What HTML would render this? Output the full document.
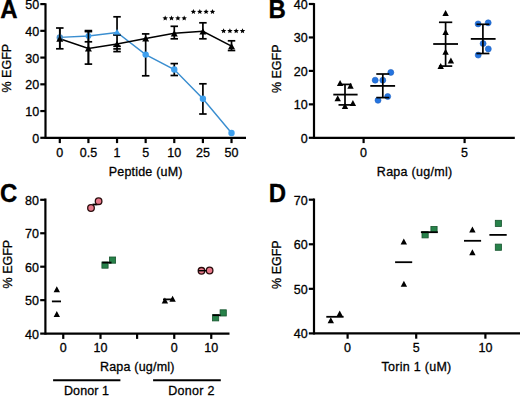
<!DOCTYPE html>
<html><head><meta charset="utf-8"><style>
html,body{margin:0;padding:0;background:#fff;}
body{width:520px;height:396px;overflow:hidden;}
svg{display:block;font-family:"Liberation Sans", sans-serif;fill:#000;}
text{stroke:#000;stroke-width:0.3px;}
</style></head><body>
<svg width="520" height="396" viewBox="0 0 520 396">
<rect width="520" height="396" fill="#fff"/>
<text x="0" y="0" font-size="24" font-weight="bold" transform="translate(0.2,18.2) scale(1,1.08)">A</text>
<line x1="45.5" y1="3.3000000000000003" x2="45.5" y2="138.9" stroke="#000" stroke-width="2.2"/>
<line x1="40.3" y1="137.8" x2="45.5" y2="137.8" stroke="#000" stroke-width="2.2"/>
<text x="39.1" y="142.8" text-anchor="end" font-size="12.5" font-weight="normal" >0</text>
<line x1="40.3" y1="111.06" x2="45.5" y2="111.06" stroke="#000" stroke-width="2.2"/>
<text x="39.1" y="116.06" text-anchor="end" font-size="12.5" font-weight="normal" >10</text>
<line x1="40.3" y1="84.32" x2="45.5" y2="84.32" stroke="#000" stroke-width="2.2"/>
<text x="39.1" y="89.32" text-anchor="end" font-size="12.5" font-weight="normal" >20</text>
<line x1="40.3" y1="57.58" x2="45.5" y2="57.58" stroke="#000" stroke-width="2.2"/>
<text x="39.1" y="62.58" text-anchor="end" font-size="12.5" font-weight="normal" >30</text>
<line x1="40.3" y1="30.84" x2="45.5" y2="30.84" stroke="#000" stroke-width="2.2"/>
<text x="39.1" y="35.84" text-anchor="end" font-size="12.5" font-weight="normal" >40</text>
<line x1="40.3" y1="4.1" x2="45.5" y2="4.1" stroke="#000" stroke-width="2.2"/>
<text x="39.1" y="9.1" text-anchor="end" font-size="12.5" font-weight="normal" >50</text>
<line x1="45.5" y1="137.8" x2="246" y2="137.8" stroke="#000" stroke-width="2.2"/>
<line x1="59.8" y1="137.8" x2="59.8" y2="143.10000000000002" stroke="#000" stroke-width="2.2"/>
<text x="59.8" y="156.5" text-anchor="middle" font-size="12.5" font-weight="normal" >0</text>
<line x1="88.42" y1="137.8" x2="88.42" y2="143.10000000000002" stroke="#000" stroke-width="2.2"/>
<text x="88.42" y="156.5" text-anchor="middle" font-size="12.5" font-weight="normal" >0.5</text>
<line x1="117.04" y1="137.8" x2="117.04" y2="143.10000000000002" stroke="#000" stroke-width="2.2"/>
<text x="117.04" y="156.5" text-anchor="middle" font-size="12.5" font-weight="normal" >1</text>
<line x1="145.66" y1="137.8" x2="145.66" y2="143.10000000000002" stroke="#000" stroke-width="2.2"/>
<text x="145.66" y="156.5" text-anchor="middle" font-size="12.5" font-weight="normal" >5</text>
<line x1="174.28" y1="137.8" x2="174.28" y2="143.10000000000002" stroke="#000" stroke-width="2.2"/>
<text x="174.28" y="156.5" text-anchor="middle" font-size="12.5" font-weight="normal" >10</text>
<line x1="202.9" y1="137.8" x2="202.9" y2="143.10000000000002" stroke="#000" stroke-width="2.2"/>
<text x="202.9" y="156.5" text-anchor="middle" font-size="12.5" font-weight="normal" >25</text>
<line x1="231.52" y1="137.8" x2="231.52" y2="143.10000000000002" stroke="#000" stroke-width="2.2"/>
<text x="231.52" y="156.5" text-anchor="middle" font-size="12.5" font-weight="normal" >50</text>
<text x="145.7" y="175.8" text-anchor="middle" font-size="12.5" letter-spacing="0.2">Peptide (uM)</text>
<text x="0" y="0" text-anchor="middle" font-size="12.5" transform="translate(11.0,68.2) rotate(-90)">% EGFP</text>
<line x1="59.8" y1="28.0" x2="59.8" y2="48.8" stroke="#000" stroke-width="1.7"/>
<line x1="56.05" y1="28.0" x2="63.55" y2="28.0" stroke="#000" stroke-width="1.7"/>
<line x1="56.05" y1="48.8" x2="63.55" y2="48.8" stroke="#000" stroke-width="1.7"/>
<line x1="88.42" y1="30.6" x2="88.42" y2="64.1" stroke="#000" stroke-width="1.7"/>
<line x1="84.67" y1="30.6" x2="92.17" y2="30.6" stroke="#000" stroke-width="1.7"/>
<line x1="84.67" y1="64.1" x2="92.17" y2="64.1" stroke="#000" stroke-width="1.7"/>
<line x1="84.67" y1="31.6" x2="92.17" y2="31.6" stroke="#000" stroke-width="1.7"/>
<line x1="84.67" y1="41.8" x2="92.17" y2="41.8" stroke="#000" stroke-width="1.7"/>
<line x1="117.04" y1="16.8" x2="117.04" y2="51.6" stroke="#000" stroke-width="1.7"/>
<line x1="113.29" y1="16.8" x2="120.79" y2="16.8" stroke="#000" stroke-width="1.7"/>
<line x1="113.29" y1="51.6" x2="120.79" y2="51.6" stroke="#000" stroke-width="1.7"/>
<line x1="113.29" y1="48.9" x2="120.79" y2="48.9" stroke="#000" stroke-width="1.7"/>
<line x1="113.29" y1="46.3" x2="120.79" y2="46.3" stroke="#000" stroke-width="1.7"/>
<line x1="113.29" y1="34.7" x2="120.79" y2="34.7" stroke="#000" stroke-width="1.7"/>
<line x1="145.66" y1="33.9" x2="145.66" y2="75.8" stroke="#000" stroke-width="1.7"/>
<line x1="141.91" y1="33.9" x2="149.41" y2="33.9" stroke="#000" stroke-width="1.7"/>
<line x1="141.91" y1="75.8" x2="149.41" y2="75.8" stroke="#000" stroke-width="1.7"/>
<line x1="174.28" y1="26.3" x2="174.28" y2="38.8" stroke="#000" stroke-width="1.7"/>
<line x1="170.53" y1="26.3" x2="178.03" y2="26.3" stroke="#000" stroke-width="1.7"/>
<line x1="170.53" y1="38.8" x2="178.03" y2="38.8" stroke="#000" stroke-width="1.7"/>
<line x1="174.28" y1="63.6" x2="174.28" y2="75.5" stroke="#000" stroke-width="1.7"/>
<line x1="170.53" y1="63.6" x2="178.03" y2="63.6" stroke="#000" stroke-width="1.7"/>
<line x1="170.53" y1="75.5" x2="178.03" y2="75.5" stroke="#000" stroke-width="1.7"/>
<line x1="202.9" y1="22.8" x2="202.9" y2="38.8" stroke="#000" stroke-width="1.7"/>
<line x1="199.15" y1="22.8" x2="206.65" y2="22.8" stroke="#000" stroke-width="1.7"/>
<line x1="199.15" y1="38.8" x2="206.65" y2="38.8" stroke="#000" stroke-width="1.7"/>
<line x1="202.9" y1="83.8" x2="202.9" y2="114.0" stroke="#000" stroke-width="1.7"/>
<line x1="199.15" y1="83.8" x2="206.65" y2="83.8" stroke="#000" stroke-width="1.7"/>
<line x1="199.15" y1="114.0" x2="206.65" y2="114.0" stroke="#000" stroke-width="1.7"/>
<line x1="231.52" y1="40.8" x2="231.52" y2="50.5" stroke="#000" stroke-width="1.7"/>
<line x1="227.77" y1="40.8" x2="235.27" y2="40.8" stroke="#000" stroke-width="1.7"/>
<line x1="227.77" y1="50.5" x2="235.27" y2="50.5" stroke="#000" stroke-width="1.7"/>
<polyline points="59.8,37.4 88.42,36.0 117.04,32.5 145.66,54.6 174.28,69.5 202.9,98.8 231.52,133.0" fill="none" stroke="#3a8ed0" stroke-width="1.45"/>
<polyline points="59.8,38.7 88.42,48.4 117.04,43.9 145.66,38.4 174.28,33.3 202.9,31.3 231.52,46.2" fill="none" stroke="#000" stroke-width="1.5"/>
<circle cx="59.8" cy="37.4" r="3.2" fill="#4d8fc6"/>
<circle cx="88.42" cy="36.0" r="2.9" fill="#3fa0ee"/>
<polygon points="117.04,28.900000000000002 121.04,35.5 113.04,35.5" fill="#3fa0ee"/>
<circle cx="145.66" cy="54.6" r="3.2" fill="#3fa0ee"/>
<circle cx="174.28" cy="69.5" r="3.2" fill="#3fa0ee"/>
<circle cx="202.9" cy="98.8" r="3.2" fill="#3fa0ee"/>
<circle cx="231.52" cy="133.0" r="3.2" fill="#3fa0ee"/>
<line x1="59.8" y1="28.0" x2="59.8" y2="48.8" stroke="#000" stroke-width="1.7"/>
<line x1="88.42" y1="30.6" x2="88.42" y2="64.1" stroke="#000" stroke-width="1.7"/>
<polygon points="59.8,35.550000000000004 63.3,41.85 56.3,41.85" fill="#000"/>
<polygon points="88.42,45.25 91.92,51.55 84.92,51.55" fill="#000"/>
<polygon points="117.04,40.75 120.54,47.05 113.54,47.05" fill="#000"/>
<polygon points="145.66,35.25 149.16,41.55 142.16,41.55" fill="#000"/>
<polygon points="174.28,30.15 177.78,36.449999999999996 170.78,36.449999999999996" fill="#000"/>
<polygon points="202.9,28.150000000000002 206.4,34.45 199.4,34.45" fill="#000"/>
<polygon points="231.52,43.050000000000004 235.02,49.35 228.02,49.35" fill="#000"/>
<line x1="113.24000000000001" y1="35.2" x2="120.84" y2="35.2" stroke="#000" stroke-width="1.1"/>
<polygon points="165.20,15.45 165.96,17.25 167.91,17.42 166.44,18.70 166.88,20.61 165.20,19.60 163.52,20.61 163.96,18.70 162.49,17.42 164.44,17.25" fill="#000"/>
<polygon points="171.50,15.45 172.26,17.25 174.21,17.42 172.74,18.70 173.18,20.61 171.50,19.60 169.82,20.61 170.26,18.70 168.79,17.42 170.74,17.25" fill="#000"/>
<polygon points="177.90,15.45 178.66,17.25 180.61,17.42 179.14,18.70 179.58,20.61 177.90,19.60 176.22,20.61 176.66,18.70 175.19,17.42 177.14,17.25" fill="#000"/>
<polygon points="184.20,15.45 184.96,17.25 186.91,17.42 185.44,18.70 185.88,20.61 184.20,19.60 182.52,20.61 182.96,18.70 181.49,17.42 183.44,17.25" fill="#000"/>
<polygon points="193.40,8.95 194.16,10.75 196.11,10.92 194.64,12.20 195.08,14.11 193.40,13.10 191.72,14.11 192.16,12.20 190.69,10.92 192.64,10.75" fill="#000"/>
<polygon points="199.80,8.95 200.56,10.75 202.51,10.92 201.04,12.20 201.48,14.11 199.80,13.10 198.12,14.11 198.56,12.20 197.09,10.92 199.04,10.75" fill="#000"/>
<polygon points="206.10,8.95 206.86,10.75 208.81,10.92 207.34,12.20 207.78,14.11 206.10,13.10 204.42,14.11 204.86,12.20 203.39,10.92 205.34,10.75" fill="#000"/>
<polygon points="212.50,8.95 213.26,10.75 215.21,10.92 213.74,12.20 214.18,14.11 212.50,13.10 210.82,14.11 211.26,12.20 209.79,10.92 211.74,10.75" fill="#000"/>
<polygon points="223.60,28.15 224.36,29.95 226.31,30.12 224.84,31.40 225.28,33.31 223.60,32.30 221.92,33.31 222.36,31.40 220.89,30.12 222.84,29.95" fill="#000"/>
<polygon points="229.90,28.15 230.66,29.95 232.61,30.12 231.14,31.40 231.58,33.31 229.90,32.30 228.22,33.31 228.66,31.40 227.19,30.12 229.14,29.95" fill="#000"/>
<polygon points="236.20,28.15 236.96,29.95 238.91,30.12 237.44,31.40 237.88,33.31 236.20,32.30 234.52,33.31 234.96,31.40 233.49,30.12 235.44,29.95" fill="#000"/>
<polygon points="242.50,28.15 243.26,29.95 245.21,30.12 243.74,31.40 244.18,33.31 242.50,32.30 240.82,33.31 241.26,31.40 239.79,30.12 241.74,29.95" fill="#000"/>
<text x="0" y="0" font-size="24" font-weight="bold" transform="translate(268.5,18.2) scale(1,1.08)">B</text>
<line x1="314.0" y1="3.1" x2="314.0" y2="138.9" stroke="#000" stroke-width="2.2"/>
<line x1="308.8" y1="137.8" x2="314.0" y2="137.8" stroke="#000" stroke-width="2.2"/>
<text x="307.59999999999997" y="142.8" text-anchor="end" font-size="12.5" font-weight="normal" >0</text>
<line x1="308.8" y1="104.35" x2="314.0" y2="104.35" stroke="#000" stroke-width="2.2"/>
<text x="307.59999999999997" y="109.35" text-anchor="end" font-size="12.5" font-weight="normal" >10</text>
<line x1="308.8" y1="70.9" x2="314.0" y2="70.9" stroke="#000" stroke-width="2.2"/>
<text x="307.59999999999997" y="75.9" text-anchor="end" font-size="12.5" font-weight="normal" >20</text>
<line x1="308.8" y1="37.45" x2="314.0" y2="37.45" stroke="#000" stroke-width="2.2"/>
<text x="307.59999999999997" y="42.45" text-anchor="end" font-size="12.5" font-weight="normal" >30</text>
<line x1="308.8" y1="4.0" x2="314.0" y2="4.0" stroke="#000" stroke-width="2.2"/>
<text x="307.59999999999997" y="9.0" text-anchor="end" font-size="12.5" font-weight="normal" >40</text>
<line x1="314.0" y1="137.8" x2="514.8" y2="137.8" stroke="#000" stroke-width="2.2"/>
<line x1="363.6" y1="137.8" x2="363.6" y2="143.10000000000002" stroke="#000" stroke-width="2.2"/>
<text x="363.6" y="156.5" text-anchor="middle" font-size="12.5" font-weight="normal" >0</text>
<line x1="464.6" y1="137.8" x2="464.6" y2="143.10000000000002" stroke="#000" stroke-width="2.2"/>
<text x="464.6" y="156.5" text-anchor="middle" font-size="12.5" font-weight="normal" >5</text>
<text x="414.64" y="175.8" text-anchor="middle" font-size="12.5" letter-spacing="0.28">Rapa (ug/ml)</text>
<text x="0" y="0" text-anchor="middle" font-size="12.5" transform="translate(280.5,68.75) rotate(-90)">% EGFP</text>
<line x1="333.3" y1="94.6" x2="357.6" y2="94.6" stroke="#000" stroke-width="1.8"/>
<line x1="345.0" y1="84.4" x2="345.0" y2="104.9" stroke="#000" stroke-width="1.7"/>
<line x1="338.5" y1="84.4" x2="351.5" y2="84.4" stroke="#000" stroke-width="1.7"/>
<line x1="338.5" y1="104.9" x2="351.5" y2="104.9" stroke="#000" stroke-width="1.7"/>
<polygon points="340.1,79.9 343.3,85.9 336.90000000000003,85.9" fill="#000"/>
<polygon points="350.5,82.8 353.7,88.8 347.3,88.8" fill="#000"/>
<polygon points="337.7,95.2 340.9,101.2 334.5,101.2" fill="#000"/>
<polygon points="352.9,100.1 356.09999999999997,106.1 349.7,106.1" fill="#000"/>
<polygon points="345.0,103.0 348.2,109.0 341.8,109.0" fill="#000"/>
<circle cx="390.8" cy="72.4" r="3.0" fill="#2474e0" stroke="#1d5fbf" stroke-width="0.6"/>
<circle cx="375.2" cy="80.2" r="3.0" fill="#2474e0" stroke="#1d5fbf" stroke-width="0.6"/>
<circle cx="382.8" cy="80.2" r="3.0" fill="#2474e0" stroke="#1d5fbf" stroke-width="0.6"/>
<circle cx="387.7" cy="96.5" r="3.0" fill="#2474e0" stroke="#1d5fbf" stroke-width="0.6"/>
<circle cx="378.0" cy="100.3" r="3.0" fill="#2474e0" stroke="#1d5fbf" stroke-width="0.6"/>
<line x1="370.3" y1="85.9" x2="395.1" y2="85.9" stroke="#000" stroke-width="1.8"/>
<line x1="382.8" y1="74.0" x2="382.8" y2="97.6" stroke="#000" stroke-width="1.7"/>
<line x1="376.3" y1="74.0" x2="389.3" y2="74.0" stroke="#000" stroke-width="1.7"/>
<line x1="376.3" y1="97.6" x2="389.3" y2="97.6" stroke="#000" stroke-width="1.7"/>
<line x1="433.2" y1="44.0" x2="458.0" y2="44.0" stroke="#000" stroke-width="1.8"/>
<line x1="445.6" y1="22.3" x2="445.6" y2="66.1" stroke="#000" stroke-width="1.7"/>
<line x1="438.95000000000005" y1="22.3" x2="452.25" y2="22.3" stroke="#000" stroke-width="1.7"/>
<line x1="438.95000000000005" y1="66.1" x2="452.25" y2="66.1" stroke="#000" stroke-width="1.7"/>
<polygon points="445.6,10.0 448.8,16.0 442.40000000000003,16.0" fill="#000"/>
<polygon points="445.6,29.0 448.8,35.0 442.40000000000003,35.0" fill="#000"/>
<polygon points="445.6,48.8 448.8,54.8 442.40000000000003,54.8" fill="#000"/>
<polygon points="450.9,57.5 454.09999999999997,63.5 447.7,63.5" fill="#000"/>
<polygon points="440.7,63.099999999999994 443.9,69.1 437.5,69.1" fill="#000"/>
<circle cx="478.1" cy="23.9" r="3.0" fill="#2474e0" stroke="#1d5fbf" stroke-width="0.6"/>
<circle cx="488.2" cy="22.8" r="3.0" fill="#2474e0" stroke="#1d5fbf" stroke-width="0.6"/>
<circle cx="483.1" cy="43.6" r="3.0" fill="#2474e0" stroke="#1d5fbf" stroke-width="0.6"/>
<circle cx="488.3" cy="48.9" r="3.0" fill="#2474e0" stroke="#1d5fbf" stroke-width="0.6"/>
<circle cx="478.2" cy="55.1" r="3.0" fill="#2474e0" stroke="#1d5fbf" stroke-width="0.6"/>
<line x1="470.8" y1="38.9" x2="495.6" y2="38.9" stroke="#000" stroke-width="1.8"/>
<line x1="482.9" y1="24.3" x2="482.9" y2="53.5" stroke="#000" stroke-width="1.7"/>
<line x1="476.4" y1="24.3" x2="489.4" y2="24.3" stroke="#000" stroke-width="1.7"/>
<line x1="476.4" y1="53.5" x2="489.4" y2="53.5" stroke="#000" stroke-width="1.7"/>
<text x="0" y="0" font-size="24" font-weight="bold" transform="translate(0.0,202.4) scale(1,1.08)">C</text>
<line x1="45.4" y1="198.5" x2="45.4" y2="334.70000000000005" stroke="#000" stroke-width="2.2"/>
<line x1="40.199999999999996" y1="333.6" x2="45.4" y2="333.6" stroke="#000" stroke-width="2.2"/>
<text x="39.0" y="338.6" text-anchor="end" font-size="12.5" font-weight="normal" >40</text>
<line x1="40.199999999999996" y1="300.15" x2="45.4" y2="300.15" stroke="#000" stroke-width="2.2"/>
<text x="39.0" y="305.15" text-anchor="end" font-size="12.5" font-weight="normal" >50</text>
<line x1="40.199999999999996" y1="266.7" x2="45.4" y2="266.7" stroke="#000" stroke-width="2.2"/>
<text x="39.0" y="271.7" text-anchor="end" font-size="12.5" font-weight="normal" >60</text>
<line x1="40.199999999999996" y1="233.25" x2="45.4" y2="233.25" stroke="#000" stroke-width="2.2"/>
<text x="39.0" y="238.25" text-anchor="end" font-size="12.5" font-weight="normal" >70</text>
<line x1="40.199999999999996" y1="199.8" x2="45.4" y2="199.8" stroke="#000" stroke-width="2.2"/>
<text x="39.0" y="204.8" text-anchor="end" font-size="12.5" font-weight="normal" >80</text>
<line x1="45.4" y1="333.6" x2="229.5" y2="333.6" stroke="#000" stroke-width="2.2"/>
<line x1="63.25" y1="333.6" x2="63.25" y2="338.90000000000003" stroke="#000" stroke-width="2.2"/>
<text x="63.25" y="352.3" text-anchor="middle" font-size="12.5" font-weight="normal" >0</text>
<line x1="100.5" y1="333.6" x2="100.5" y2="338.90000000000003" stroke="#000" stroke-width="2.2"/>
<text x="100.5" y="352.3" text-anchor="middle" font-size="12.5" font-weight="normal" >10</text>
<line x1="137.1" y1="333.6" x2="137.1" y2="338.90000000000003" stroke="#000" stroke-width="2.2"/>
<line x1="174.25" y1="333.6" x2="174.25" y2="338.90000000000003" stroke="#000" stroke-width="2.2"/>
<text x="174.25" y="352.3" text-anchor="middle" font-size="12.5" font-weight="normal" >0</text>
<line x1="211.25" y1="333.6" x2="211.25" y2="338.90000000000003" stroke="#000" stroke-width="2.2"/>
<text x="211.25" y="352.3" text-anchor="middle" font-size="12.5" font-weight="normal" >10</text>
<text x="137.29999999999998" y="371.2" text-anchor="middle" font-size="12.5" letter-spacing="0.2">Rapa (ug/ml)</text>
<text x="0" y="0" text-anchor="middle" font-size="12.5" transform="translate(11.6,264.1) rotate(-90)">% EGFP</text>
<line x1="53.1" y1="380.2" x2="120.4" y2="380.2" stroke="#000" stroke-width="2"/>
<line x1="153.1" y1="380.2" x2="220.8" y2="380.2" stroke="#000" stroke-width="2"/>
<text x="86.55" y="395.1" text-anchor="middle" font-size="12.5" letter-spacing="0.1">Donor 1</text>
<text x="191.55" y="395.1" text-anchor="middle" font-size="12.5" letter-spacing="0.3">Donor 2</text>
<line x1="51.9" y1="301.4" x2="61.0" y2="301.4" stroke="#000" stroke-width="1.8"/>
<polygon points="56.8,286.2 60.0,292.2 53.599999999999994,292.2" fill="#000"/>
<polygon points="56.8,311.0 60.0,317.0 53.599999999999994,317.0" fill="#000"/>
<line x1="92.5" y1="204.5" x2="97.5" y2="204.5" stroke="#000" stroke-width="1.8"/>
<circle cx="91.0" cy="208.0" r="3.3" fill="#e8788a" stroke="#2a0c0c" stroke-width="1.3"/>
<circle cx="98.6" cy="201.2" r="3.3" fill="#e8788a" stroke="#2a0c0c" stroke-width="1.3"/>
<rect x="101.9" y="262.0" width="6.2" height="6.2" fill="#27824a" stroke="#17552e" stroke-width="0.8"/>
<rect x="109.4" y="257.0" width="6.2" height="6.2" fill="#27824a" stroke="#17552e" stroke-width="0.8"/>
<line x1="102.2" y1="262.6" x2="111.5" y2="262.6" stroke="#000" stroke-width="1.8"/>
<line x1="163" y1="299.4" x2="173" y2="299.4" stroke="#000" stroke-width="1.8"/>
<polygon points="164.9,297.5 168.1,303.5 161.70000000000002,303.5" fill="#000"/>
<polygon points="172.6,295.7 175.79999999999998,301.7 169.4,301.7" fill="#000"/>
<circle cx="201.5" cy="270.8" r="3.3" fill="#e8788a" stroke="#2a0c0c" stroke-width="1.3"/>
<circle cx="209.6" cy="270.5" r="3.3" fill="#e8788a" stroke="#2a0c0c" stroke-width="1.3"/>
<line x1="198.3" y1="270.7" x2="206.5" y2="270.7" stroke="#000" stroke-width="1.4"/>
<rect x="212.5" y="314.7" width="6.2" height="6.2" fill="#27824a" stroke="#17552e" stroke-width="0.8"/>
<rect x="220.1" y="309.79999999999995" width="6.2" height="6.2" fill="#27824a" stroke="#17552e" stroke-width="0.8"/>
<line x1="212.6" y1="315.2" x2="220.5" y2="315.2" stroke="#000" stroke-width="1.8"/>
<text x="0" y="0" font-size="24" font-weight="bold" transform="translate(268.7,202.4) scale(1,1.08)">D</text>
<line x1="314.0" y1="198.5" x2="314.0" y2="334.5" stroke="#000" stroke-width="2.2"/>
<line x1="308.8" y1="333.4" x2="314.0" y2="333.4" stroke="#000" stroke-width="2.2"/>
<text x="307.59999999999997" y="338.4" text-anchor="end" font-size="12.5" font-weight="normal" >40</text>
<line x1="308.8" y1="288.83" x2="314.0" y2="288.83" stroke="#000" stroke-width="2.2"/>
<text x="307.59999999999997" y="293.83" text-anchor="end" font-size="12.5" font-weight="normal" >50</text>
<line x1="308.8" y1="244.27" x2="314.0" y2="244.27" stroke="#000" stroke-width="2.2"/>
<text x="307.59999999999997" y="249.27" text-anchor="end" font-size="12.5" font-weight="normal" >60</text>
<line x1="308.8" y1="199.7" x2="314.0" y2="199.7" stroke="#000" stroke-width="2.2"/>
<text x="307.59999999999997" y="204.7" text-anchor="end" font-size="12.5" font-weight="normal" >70</text>
<line x1="314.0" y1="333.4" x2="521" y2="333.4" stroke="#000" stroke-width="2.2"/>
<line x1="347.6" y1="333.4" x2="347.6" y2="338.7" stroke="#000" stroke-width="2.2"/>
<text x="347.6" y="352.09999999999997" text-anchor="middle" font-size="12.5" font-weight="normal" >0</text>
<line x1="416.2" y1="333.4" x2="416.2" y2="338.7" stroke="#000" stroke-width="2.2"/>
<text x="416.2" y="352.09999999999997" text-anchor="middle" font-size="12.5" font-weight="normal" >5</text>
<line x1="485.4" y1="333.4" x2="485.4" y2="338.7" stroke="#000" stroke-width="2.2"/>
<text x="485.4" y="352.09999999999997" text-anchor="middle" font-size="12.5" font-weight="normal" >10</text>
<text x="416.53999999999996" y="371.3" text-anchor="middle" font-size="12.5" letter-spacing="0.28">Torin 1 (uM)</text>
<text x="0" y="0" text-anchor="middle" font-size="12.5" transform="translate(280.7,264.6) rotate(-90)">% EGFP</text>
<line x1="326.3" y1="316.8" x2="343.6" y2="316.8" stroke="#000" stroke-width="1.8"/>
<polygon points="330.8,317.2 334.0,323.2 327.6,323.2" fill="#000"/>
<polygon points="339.7,310.45 342.9,316.45 336.5,316.45" fill="#000"/>
<line x1="395.1" y1="262.2" x2="412.2" y2="262.2" stroke="#000" stroke-width="1.8"/>
<polygon points="403.8,238.4 407.0,244.4 400.6,244.4" fill="#000"/>
<polygon points="403.9,280.7 407.09999999999997,286.7 400.7,286.7" fill="#000"/>
<rect x="422.0" y="231.70000000000002" width="6.2" height="6.2" fill="#27824a" stroke="#17552e" stroke-width="0.8"/>
<rect x="430.9" y="226.4" width="6.2" height="6.2" fill="#27824a" stroke="#17552e" stroke-width="0.8"/>
<line x1="420.9" y1="232.2" x2="437.8" y2="232.2" stroke="#000" stroke-width="1.8"/>
<line x1="464.0" y1="240.8" x2="481.1" y2="240.8" stroke="#000" stroke-width="1.8"/>
<polygon points="472.4,226.5 475.59999999999997,232.5 469.2,232.5" fill="#000"/>
<polygon points="472.4,249.3 475.59999999999997,255.3 469.2,255.3" fill="#000"/>
<line x1="489.4" y1="234.9" x2="506.7" y2="234.9" stroke="#000" stroke-width="1.8"/>
<rect x="495.29999999999995" y="220.3" width="6.2" height="6.2" fill="#27824a" stroke="#17552e" stroke-width="0.8"/>
<rect x="495.29999999999995" y="244.1" width="6.2" height="6.2" fill="#27824a" stroke="#17552e" stroke-width="0.8"/>
</svg>
</body></html>
